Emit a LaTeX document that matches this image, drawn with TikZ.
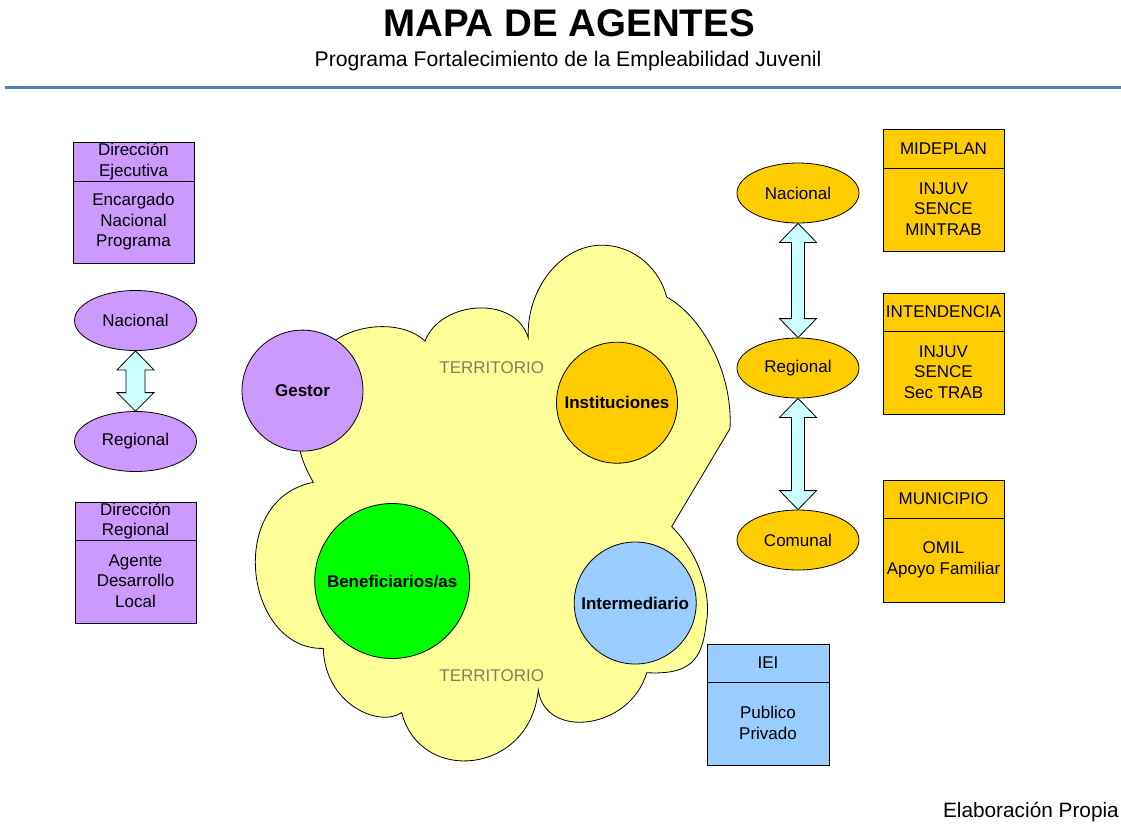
\documentclass[tikz,border=0pt]{standalone}
\usepackage{fontspec}
\setmainfont{Liberation Sans}
\usetikzlibrary{shapes.geometric,calc}
\definecolor{purp}{HTML}{CC99FF}
\definecolor{cloudy}{HTML}{FFFF99}
\definecolor{orng}{HTML}{FFCC00}
\definecolor{grn}{HTML}{00FF00}
\definecolor{lblue}{HTML}{99CCFF}
\definecolor{arrfill}{HTML}{CCFFFF}
\definecolor{rulecol}{RGB}{79,129,189}
\definecolor{terr}{RGB}{128,128,96}
\begin{document}
\begin{tikzpicture}[x=1pt,y=-1pt,
  box/.style={draw=black, line width=0.8pt, rectangle, minimum width=121pt, inner sep=0pt},
  txt/.style={align=center, inner sep=0pt, font=\fontsize{17}{20.5}\selectfont},
  oval/.style={draw=black, ellipse, line width=0.8pt, minimum width=122pt, minimum height=60pt, inner sep=0pt, font=\fontsize{17}{20.5}\selectfont},
  agent/.style={draw=black, circle, line width=0.8pt, inner sep=0pt, font=\bfseries\fontsize{17}{20.5}\selectfont},
  dbl/.style={draw=black, fill=arrfill, line width=0.8pt, line join=miter},
  divider/.style={draw=black, line width=0.8pt},
]
\useasboundingbox (0,0) rectangle (1121,823);
\fill[white] (0,0) rectangle (1121,823);

% header
\node[anchor=base, inner sep=0pt, font=\bfseries\fontsize{38.5}{44}\selectfont] (title) at (569,36) {MAPA DE AGENTES};
\node[anchor=base, inner sep=0pt, font=\fontsize{21.2}{25}\selectfont] (subtitle) at (568,66) {Programa Fortalecimiento de la Empleabilidad Juvenil};
\coordinate (ruleL) at (5,87);
\coordinate (ruleR) at (1121,87);
\draw[rulecol, line width=3pt] (ruleL) -- (ruleR);

% cloud
\draw[fill=cloudy, line width=0.8pt] (330,345)
 .. controls (350,325) and (400,318) .. (425,341)
 .. controls (440,301) and (515,294) .. (528.3,338)
 .. controls (526,290) and (560,245.2) .. (601.7,245.2)
 .. controls (635,245.2) and (660,270) .. (666.7,297.1)
 .. controls (700,315) and (733,370) .. (730,428.6)
 -- (671.7,526.6)
 .. controls (700,555) and (712,595) .. (706,625)
 .. controls (702,660) and (690,675) .. (646.7,672.7)
 .. controls (630,730) and (545,740) .. (538.3,690)
 .. controls (530,775) and (420,785) .. (401.7,712.5)
 .. controls (380,728) and (325,705) .. (323.3,648.4)
 .. controls (245,650) and (225,500) .. (313.3,482.3)
 .. controls (305,468) and (300,455) .. (298,440)
 -- cycle;
\node[txt, text=terr] (terrA) at (491.7,368) {TERRITORIO};
\node[txt, text=terr] (terrB) at (491.7,676) {TERRITORIO};

% agents
\node[agent, fill=purp, minimum size=121pt] (gestor) at (302.5,390.6) {Gestor};
\node[agent, fill=orng, minimum size=121pt] (inst) at (617,402.7) {Instituciones};
\node[agent, fill=grn, minimum size=155pt] (benef) at (392.2,581) {Beneficiarios/as};
\node[agent, fill=lblue, minimum size=122pt] (inter) at (635.2,603) {Intermediario};

% left column
\node[box, fill=purp, minimum height=121pt] (lb1) at (133.5,202.5) {};
\coordinate (lb1d) at (0,181);
\draw[divider] (lb1.west |- lb1d) -- (lb1.east |- lb1d);
\node[txt] (lb1h) at (133.5,161.5) {Dirección\\Ejecutiva};
\node[txt] (lb1b) at (133.5,222) {Encargado\\Nacional\\Programa};

\node[oval, fill=purp] (lnac) at (135.5,320.5) {Nacional};
\node[oval, fill=purp] (lreg) at (135.5,441.5) {Regional};

\node[box, fill=purp, minimum height=121pt] (lb2) at (135.5,562.5) {};
\coordinate (lb2d) at (0,540);
\draw[divider] (lb2.west |- lb2d) -- (lb2.east |- lb2d);
\node[txt] (lb2h) at (135.5,521) {Dirección\\Regional};
\node[txt] (lb2b) at (135.5,581) {Agente\\Desarrollo\\Local};

% left double arrow
\draw[dbl] let \p1=(lnac.south), \p2=(lreg.north) in
  (\x1,\y1) -- (\x1+18.5pt,\y1-19pt) -- (\x1+9.5pt,\y1-19pt) -- (\x1+9.5pt,\y2+18.5pt)
  -- (\x1+18.5pt,\y2+18.5pt) -- (\x2,\y2) -- (\x1-18.5pt,\y2+18.5pt) -- (\x1-9.5pt,\y2+18.5pt)
  -- (\x1-9.5pt,\y1-19pt) -- (\x1-18.5pt,\y1-19pt) -- cycle;

% right column
\node[oval, fill=orng] (rnac) at (798,193) {Nacional};
\node[oval, fill=orng] (rreg) at (798,368) {Regional};
\node[oval, fill=orng] (rcom) at (798,540) {Comunal};

\draw[dbl] let \p1=(rnac.south), \p2=(rreg.north) in
  (\x1,\y1) -- (\x1+18.5pt,\y1-19pt) -- (\x1+6.5pt,\y1-19pt) -- (\x1+6.5pt,\y2+19pt)
  -- (\x1+18.5pt,\y2+19pt) -- (\x2,\y2) -- (\x1-18.5pt,\y2+19pt) -- (\x1-6.5pt,\y2+19pt)
  -- (\x1-6.5pt,\y1-19pt) -- (\x1-18.5pt,\y1-19pt) -- cycle;
\draw[dbl] let \p1=(rreg.south), \p2=(rcom.north) in
  (\x1,\y1) -- (\x1+18.5pt,\y1-19pt) -- (\x1+6.5pt,\y1-19pt) -- (\x1+6.5pt,\y2+19pt)
  -- (\x1+18.5pt,\y2+19pt) -- (\x2,\y2) -- (\x1-18.5pt,\y2+19pt) -- (\x1-6.5pt,\y2+19pt)
  -- (\x1-6.5pt,\y1-19pt) -- (\x1-18.5pt,\y1-19pt) -- cycle;

\node[box, fill=orng, minimum height=122pt] (rb1) at (943.5,190) {};
\coordinate (rb1d) at (0,168);
\draw[divider] (rb1.west |- rb1d) -- (rb1.east |- rb1d);
\node[txt] (rb1h) at (943.5,148.5) {MIDEPLAN};
\node[txt] (rb1b) at (943.5,209) {INJUV\\SENCE\\MINTRAB};

\node[box, fill=orng, minimum height=121pt] (rb2) at (943.5,353.5) {};
\coordinate (rb2d) at (0,331);
\draw[divider] (rb2.west |- rb2d) -- (rb2.east |- rb2d);
\node[txt] (rb2h) at (943.5,312) {INTENDENCIA};
\node[txt] (rb2b) at (943.5,372) {INJUV\\SENCE\\Sec TRAB};

\node[box, fill=orng, minimum height=122pt] (rb3) at (943.5,541) {};
\coordinate (rb3d) at (0,518);
\draw[divider] (rb3.west |- rb3d) -- (rb3.east |- rb3d);
\node[txt] (rb3h) at (943.5,499) {MUNICIPIO};
\node[txt] (rb3b) at (943.5,560) {OMIL\\Apoyo Familiar};

% IEI box
\node[box, fill=lblue, minimum height=121pt, minimum width=122pt] (iei) at (768,704.5) {};
\coordinate (ieid) at (0,682);
\draw[divider] (iei.west |- ieid) -- (iei.east |- ieid);
\node[txt] (ieih) at (768,663) {IEI};
\node[txt] (ieib) at (768,723) {Publico\\Privado};

% footer
\node[anchor=base east, inner sep=0pt, font=\fontsize{20.8}{24}\selectfont] (foot) at (1119,817) {Elaboración Propia};
\end{tikzpicture}
\end{document}
